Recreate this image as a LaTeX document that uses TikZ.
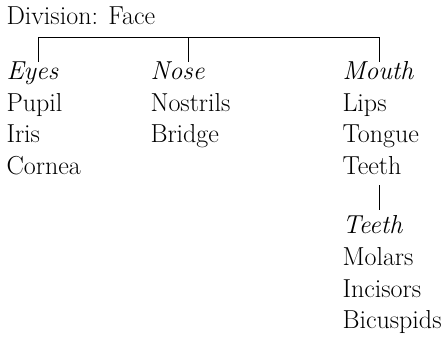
\documentclass[tikz,border=0pt]{standalone}
\tikzset{every picture/.style={line width=0.75pt}}
\tikzset{lbl/.style={anchor=base west,inner sep=0pt,font=\fontsize{19.5}{23}\selectfont}}

\begin{document}
\begin{tikzpicture}[x=0.75pt,y=0.75pt,yscale=-1,xscale=1]
\useasboundingbox (0,0) rectangle (445,338);

% Text Node
\node[lbl] (division) at (6,25) {Division: Face};
% Text Node
\node[lbl] (eyes) at (6,80) {\itshape Eyes};
\node[lbl] (pupil) at (6,112) {Pupil};
\node[lbl] (iris) at (6,143) {Iris};
\node[lbl] (cornea) at (6,175) {Cornea};
% Text Node
\node[lbl] (nose) at (150,80) {\itshape Nose};
\node[lbl] (nostrils) at (150,112) {Nostrils};
\node[lbl] (bridge) at (150,143) {Bridge};
% Text Node
\node[lbl] (mouth) at (342,80) {\itshape Mouth};
\node[lbl] (lips) at (342,112) {Lips};
\node[lbl] (tongue) at (342,143) {Tongue};
\node[lbl] (teeth) at (342,175) {Teeth};
% Text Node
\node[lbl] (teethsub) at (342,233) {\itshape Teeth};
\node[lbl] (molars) at (342,265) {Molars};
\node[lbl] (incisors) at (342,297) {Incisors};
\node[lbl] (bicuspids) at (342,328) {Bicuspids};

\coordinate (eyestop) at (38,62);
\coordinate (nosetop) at (188,62);
\coordinate (mouthtop) at (379,62);
\coordinate (teethbot) at (379,185);
\coordinate (teethsubtop) at (379,210);

%Straight Lines
\draw (eyestop) -- ++(0,-24) -| (mouthtop);
%Straight Lines
\draw (nosetop) -- ++(0,-24);
%Straight Lines
\draw (teethbot) -- (teethsubtop);
\end{tikzpicture}
\end{document}
